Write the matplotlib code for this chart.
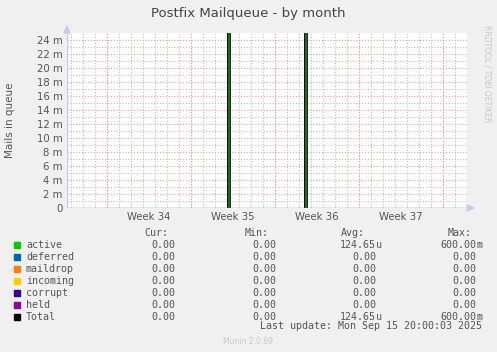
import matplotlib
matplotlib.use("Agg")
import matplotlib.pyplot as plt
import numpy as np

# Time axis in days since graph start (33.3 days shown, 12 px per day)
t_days = [0.0, 13.36, 13.56, 19.78, 19.97, 33.33]
active = [0.0, 0.6, 0.0, 0.6, 0.0, 0.0]
deferred = [0.0, 0.0, 0.0, 0.0, 0.0, 0.0]
maildrop = [0.0, 0.0, 0.0, 0.0, 0.0, 0.0]
incoming = [0.0, 0.0, 0.0, 0.0, 0.0, 0.0]
corrupt = [0.0, 0.0, 0.0, 0.0, 0.0, 0.0]
held = [0.0, 0.0, 0.0, 0.0, 0.0, 0.0]

week_starts = [3.33, 10.33, 17.33, 24.33, 31.33]
week_labels = ["Week 34", "Week 35", "Week 36", "Week 37"]
y_ticks = [0, 0.002, 0.004, 0.006, 0.008, 0.010, 0.012, 0.014, 0.016,
           0.018, 0.020, 0.022, 0.024]
y_max = 0.025

series_names = ["active", "deferred", "maildrop", "incoming", "corrupt", "held", "Total"]
series_colors = ["#00CC00", "#0066B3", "#FF8000", "#FFCC00", "#330099", "#990099", "#000000"]
cur_vals = ["0.00"] * 7
min_vals = ["0.00"] * 7
avg_vals = ["124.65u", "0.00", "0.00", "0.00", "0.00", "0.00", "124.65u"]
max_vals = ["600.00m", "0.00", "0.00", "0.00", "0.00", "0.00", "600.00m"]

W, H = 497, 352
bg = "#F0F0F0"
fig = plt.figure(figsize=(W / 100, H / 100), dpi=100, facecolor=bg)

def fx(px):
    return px / W

def fy(py):
    return 1 - py / H

# plot area: x 67..467, y 33..208
ax = fig.add_axes([fx(67), fy(208), 400 / W, 175 / H])
ax.set_facecolor("white")
ax.set_xlim(0, 33.33)
ax.set_ylim(0, y_max)

# grid
for d in np.arange(week_starts[0] - 3, 33.4, 1.0):
    ax.axvline(d, color="#BEBEBE", lw=0.8, ls=(0, (1, 1.6)), zorder=1)
for yv in np.arange(0.001, y_max, 0.002):
    ax.axhline(yv, color="#BEBEBE", lw=0.8, ls=(0, (1, 1.6)), zorder=1)
for d in week_starts:
    ax.axvline(d, color="#EC9A9A", lw=0.8, ls=(0, (1, 1.6)), zorder=1.5)
for yv in y_ticks[1:]:
    ax.axhline(yv, color="#EC9A9A", lw=0.8, ls=(0, (1, 1.6)), zorder=1.5)

# stacked areas
stack = np.zeros(len(t_days))
for vals, col in zip([active, deferred, maildrop, incoming, corrupt, held], series_colors):
    top = stack + np.array(vals)
    ax.fill_between(t_days, stack, top, step="post", color="#1E6B1E" if col == "#00CC00" else col,
                    lw=0, zorder=2)
    stack = top
ax.plot(t_days, stack, drawstyle="steps-post", color="black", lw=0.6, zorder=3)

for s in ["top", "right", "left", "bottom"]:
    ax.spines[s].set_visible(False)
ax.axhline(0, color="#8080A0", lw=1.0, zorder=4)
ax.axvline(0, color="#C8C8F0", lw=1.0, zorder=4)

ax.set_yticks(y_ticks)
ax.set_yticklabels(["0"] + [f"{v * 1000:.0f} m" for v in y_ticks[1:]],
                   fontsize=7.3, color="#555555")
ax.set_xticks([w + 3.5 for w in week_starts[:4]])
ax.set_xticklabels(week_labels, fontsize=7.3, color="#555555")
ax.tick_params(length=0, pad=3)

# axis arrows
fig.patches.append(plt.Polygon([[fx(64), fy(33)], [fx(70), fy(33)], [fx(67), fy(26)]],
                               closed=True, transform=fig.transFigure, color="#C8C8F0"))
fig.patches.append(plt.Polygon([[fx(467), fy(205)], [fx(467), fy(211)], [fx(474), fy(208)]],
                               closed=True, transform=fig.transFigure, color="#C8C8F0"))

fig.text(fx(248), fy(14), "Postfix Mailqueue - by month", ha="center", va="center",
         fontsize=9.5, color="#444444")
fig.text(fx(10), fy(120), "Mails in queue", ha="center", va="center", rotation=90,
         fontsize=7.5, color="#555555")
fig.text(fx(487), fy(25), "RRDTOOL / TOBI OETIKER", ha="center", va="top", rotation=270,
         fontsize=5.5, color="#C8C8C8")

mono = "DejaVu Sans Mono"
fs = 7.2
txt = "#555555"
for x, h in zip([168, 269, 365, 472], ["Cur:", "Min:", "Avg:", "Max:"]):
    fig.text(fx(x), fy(232.5), h, ha="right", va="center", family=mono, fontsize=fs, color=txt)

def put_val(xend, s, y):
    num, suf = (s[:-1], s[-1]) if s[-1].isalpha() else (s, "")
    fig.text(fx(xend), fy(y), num, ha="right", va="center", family=mono, fontsize=fs, color=txt)
    if suf:
        fig.text(fx(xend), fy(y), suf, ha="left", va="center", family=mono, fontsize=fs, color=txt)

for i, name in enumerate(series_names):
    y = 244.5 + 12 * i
    fig.patches.append(plt.Rectangle((fx(14), fy(y + 3)), 6 / W, 6 / H,
                                     transform=fig.transFigure, color=series_colors[i]))
    fig.text(fx(26), fy(y), name, ha="left", va="center", family=mono, fontsize=fs, color=txt)
    put_val(175, cur_vals[i], y)
    put_val(276, min_vals[i], y)
    put_val(376, avg_vals[i], y)
    put_val(476.5, max_vals[i], y)

fig.text(fx(482), fy(326), "Last update: Mon Sep 15 20:00:03 2025", ha="right", va="center",
         family=mono, fontsize=fs, color=txt)
fig.text(fx(248), fy(341), "Munin 2.0.69", ha="center", va="center", fontsize=5.5,
         color="#C8C8C8")

fig.savefig("out.png", dpi=100, facecolor=bg)
